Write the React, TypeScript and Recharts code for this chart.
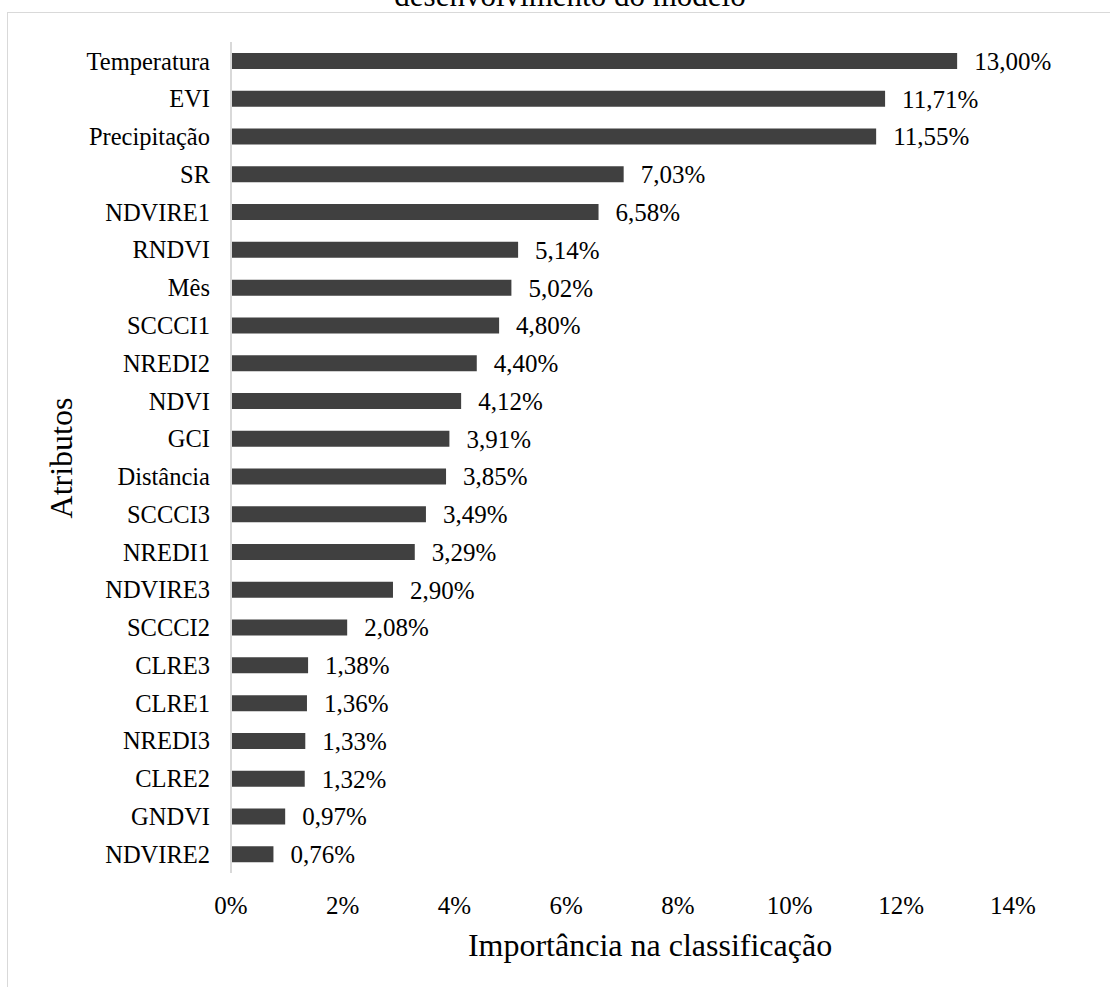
import React from "react";
import { BarChart, Bar, XAxis, YAxis, LabelList } from "recharts";

const categories = [
  "Temperatura", "EVI", "Precipitação", "SR", "NDVIRE1", "RNDVI", "Mês", "SCCCI1",
  "NREDI2", "NDVI", "GCI", "Distância", "SCCCI3", "NREDI1", "NDVIRE3", "SCCCI2",
  "CLRE3", "CLRE1", "NREDI3", "CLRE2", "GNDVI", "NDVIRE2",
];
const importance = [
  13.0, 11.71, 11.55, 7.03, 6.58, 5.14, 5.02, 4.8, 4.4, 4.12, 3.91, 3.85, 3.49, 3.29,
  2.9, 2.08, 1.38, 1.36, 1.33, 1.32, 0.97, 0.76,
];
const xTicks = [0, 2, 4, 6, 8, 10, 12, 14];

const titleText = "desenvolvimento do modelo";
const xTitle = "Importância na classificação";
const yTitle = "Atributos";

const data = categories.map((name, i) => ({ name, value: importance[i] }));

const FONT = "'Liberation Serif', 'Times New Roman', serif";

export default function App() {
  return (
    <div
      style={{
        position: "absolute",
        left: 0,
        top: 0,
        width: 1110,
        height: 987,
        overflow: "hidden",
        background: "#fff",
        fontFamily: FONT,
      }}
    >
      <div
        style={{
          position: "absolute",
          left: 7,
          top: 12,
          width: 1300,
          height: 1300,
          border: "1px solid #d9d9d9",
          boxSizing: "border-box",
        }}
      />
      <svg
        width={1110}
        height={40}
        style={{ position: "absolute", left: 0, top: 0 }}
      >
        <text
          x={570}
          y={6}
          textAnchor="middle"
          fontFamily={FONT}
          fontSize={31}
          fill="#000"
        >
          {titleText}
        </text>
      </svg>
      <div style={{ position: "absolute", left: 0, top: 0 }}>
        <BarChart
          width={1110}
          height={987}
          data={data}
          layout="vertical"
          margin={{ top: 42, right: 97, left: 0, bottom: 0 }}
        >
          <XAxis
            type="number"
            domain={[0, 14]}
            ticks={xTicks}
            tickFormatter={(v: number) => `${v}%`}
            axisLine={false}
            tickLine={false}
            tickSize={0}
            tickMargin={23}
            height={114}
            interval={0}
            tick={{ fill: "#000", fontSize: 25, fontFamily: FONT }}
            label={{
              content: () => (
                <text
                  x={650}
                  y={956}
                  textAnchor="middle"
                  fontFamily={FONT}
                  fontSize={32}
                  fill="#000"
                >
                  {xTitle}
                </text>
              ),
            }}
          />
          <YAxis
            type="category"
            dataKey="name"
            width={231}
            interval={0}
            axisLine={{ stroke: "#d9d9d9", strokeWidth: 2 }}
            tickLine={false}
            tickSize={0}
            tickMargin={21}
            tick={{ fill: "#000", fontSize: 24.5, fontFamily: FONT }}
            label={{
              content: () => (
                <text
                  x={72}
                  y={458}
                  textAnchor="middle"
                  transform="rotate(-90 72 458)"
                  fontFamily={FONT}
                  fontSize={32}
                  fill="#000"
                >
                  {yTitle}
                </text>
              ),
            }}
          />
          <Bar dataKey="value" fill="#404040" barSize={16} isAnimationActive={false}>
            <LabelList
              dataKey="value"
              position="right"
              offset={17}
              formatter={(v: any) => `${Number(v).toFixed(2).replace(".", ",")}%`}
              style={{ fill: "#000", fontSize: 25, fontFamily: FONT }}
            />
          </Bar>
        </BarChart>
      </div>
    </div>
  );
}
